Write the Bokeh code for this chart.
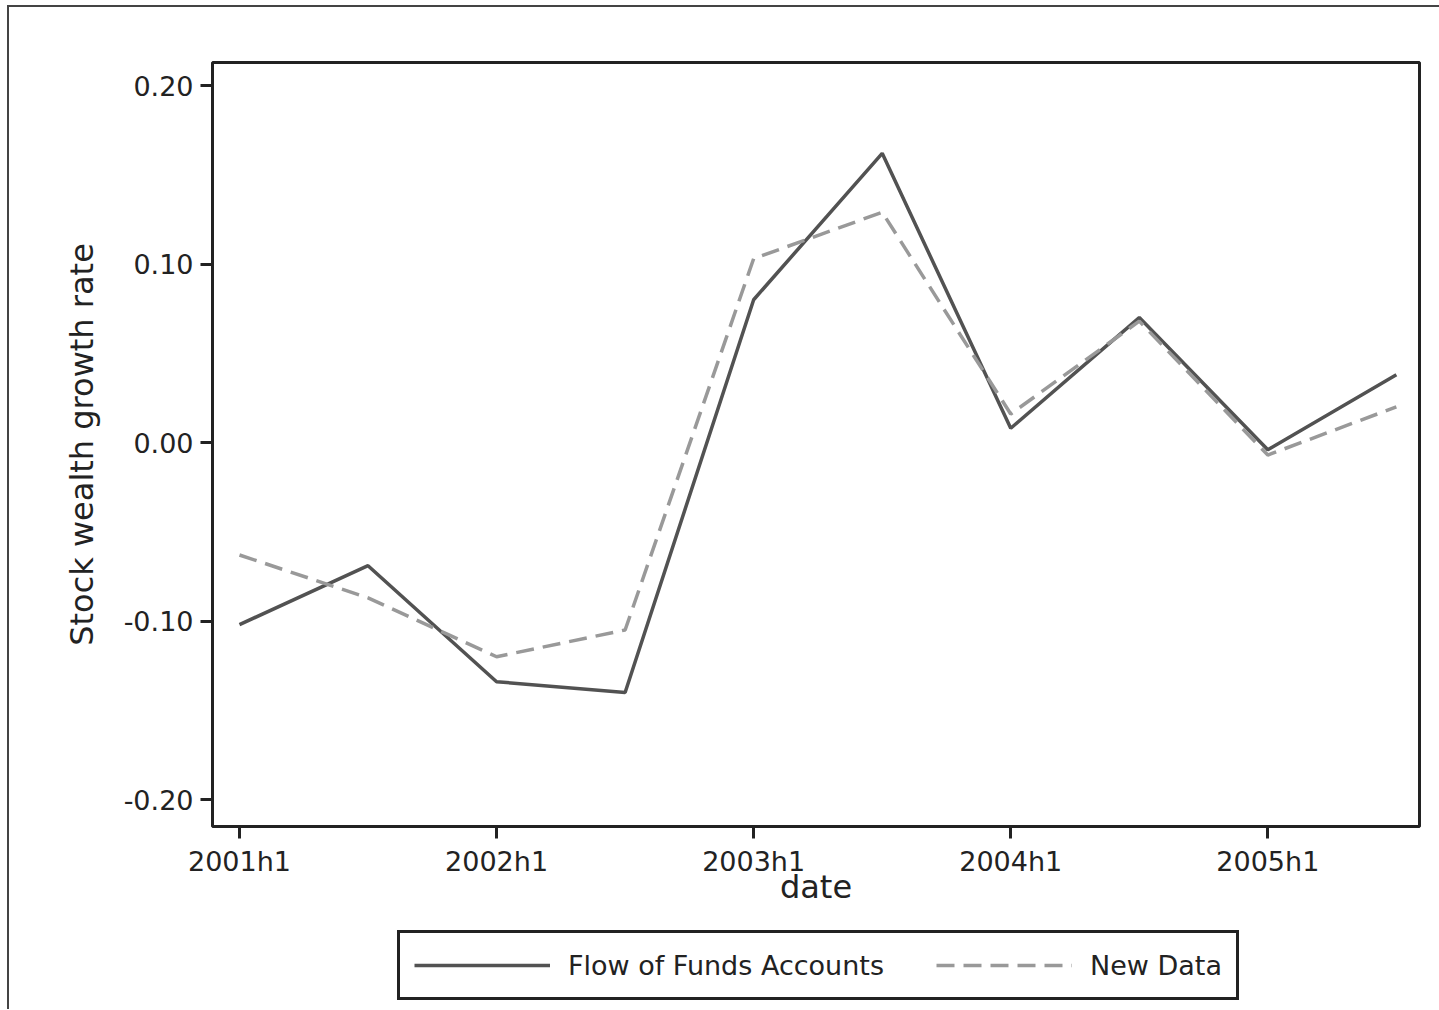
from bokeh.plotting import figure
from bokeh.layouts import column
from bokeh.models import Range1d, FixedTicker, PrintfTickFormatter, Legend, LegendItem
from bokeh.embed import file_html
from bokeh.resources import INLINE

# Half-year periods and the two stock wealth growth series
periods = ["2001h1", "2001h2", "2002h1", "2002h2", "2003h1",
           "2003h2", "2004h1", "2004h2", "2005h1", "2005h2"]
flow_of_funds = [-0.102, -0.069, -0.134, -0.140, 0.080,
                 0.162, 0.008, 0.070, -0.004, 0.038]
new_data = [-0.063, -0.087, -0.120, -0.105, 0.103,
            0.129, 0.016, 0.068, -0.007, 0.020]
series_names = ["Flow of Funds Accounts", "New Data"]
y_ticks = [-0.20, -0.10, 0.00, 0.10, 0.20]

x = list(range(len(periods)))
x_ticks = x[::2]

FONT = "DejaVu Sans"
INK = "#222222"
SOLID = dict(line_color="#525252", line_width=3.5)
DASHED = dict(line_color="#999999", line_width=3.5, line_dash="18 9")

# main chart
p = figure(width=1430, height=919, output_backend="svg", toolbar_location=None,
           x_range=Range1d(-0.21, 9.18), y_range=Range1d(-0.2151, 0.2129),
           min_border_left=203, min_border_right=20, min_border_top=55,
           min_border_bottom=100)
p.background_fill_color = "white"
p.border_fill_color = "white"
p.outline_line_color = INK
p.outline_line_width = 3
p.grid.visible = False

p.line(x, flow_of_funds, **SOLID)
p.line(x, new_data, **DASHED)

# x axis: yearly ticks labelled with period names
p.xaxis.ticker = FixedTicker(ticks=x_ticks)
p.xaxis.major_label_overrides = {i: periods[i] for i in x_ticks}
p.xaxis.axis_label = "date"

# y axis
p.yaxis.ticker = FixedTicker(ticks=y_ticks)
p.yaxis.formatter = PrintfTickFormatter(format="%.2f")
p.yaxis.axis_label = "Stock wealth growth rate"

for ax in (p.xaxis[0], p.yaxis[0]):
    ax.axis_line_color = None
    ax.major_tick_line_color = INK
    ax.major_tick_line_width = 3
    ax.major_tick_out = 12
    ax.major_tick_in = 0
    ax.minor_tick_line_color = None
    ax.major_label_text_font = FONT
    ax.major_label_text_font_size = "27px"
    ax.major_label_text_color = INK
    ax.axis_label_text_font = FONT
    ax.axis_label_text_font_size = "32px"
    ax.axis_label_text_font_style = "normal"
    ax.axis_label_text_color = INK

p.xaxis.major_label_standoff = 7
p.xaxis.axis_label_standoff = -12
p.yaxis.major_label_standoff = 7
p.yaxis.axis_label_standoff = 20

# legend strip below the chart; the series are kept out of its visible range,
# so only the legend keys show
key = figure(width=1430, height=83, output_backend="svg", toolbar_location=None,
             x_range=Range1d(100, 101), y_range=Range1d(0, 1),
             min_border=0, outline_line_color=None)
key.axis.visible = False
key.grid.visible = False
key.background_fill_color = "white"
key.border_fill_color = "white"
k_flow = key.line(x, flow_of_funds, **SOLID)
k_new = key.line(x, new_data, **DASHED)

legend = Legend(items=[LegendItem(label=series_names[0], renderers=[k_flow]),
                       LegendItem(label=series_names[1], renderers=[k_new])],
                orientation="horizontal", location=(185, 9))
legend.glyph_width = 136
legend.glyph_height = 36
legend.label_standoff = 18
legend.spacing = 52
legend.padding = 14
legend.margin = 0
legend.border_line_color = INK
legend.border_line_alpha = 1
legend.border_line_width = 3
legend.background_fill_color = "white"
legend.background_fill_alpha = 1
legend.label_text_font = FONT
legend.label_text_font_size = "27px"
legend.label_text_color = INK
key.add_layout(legend, "center")

layout = column(p, key, spacing=0)
layout.styles = {"margin-left": "7px", "margin-top": "5px",
                 "border-left": "2px solid #444444", "border-top": "2px solid #444444"}

open("out.html", "w").write(file_html(layout, INLINE))
